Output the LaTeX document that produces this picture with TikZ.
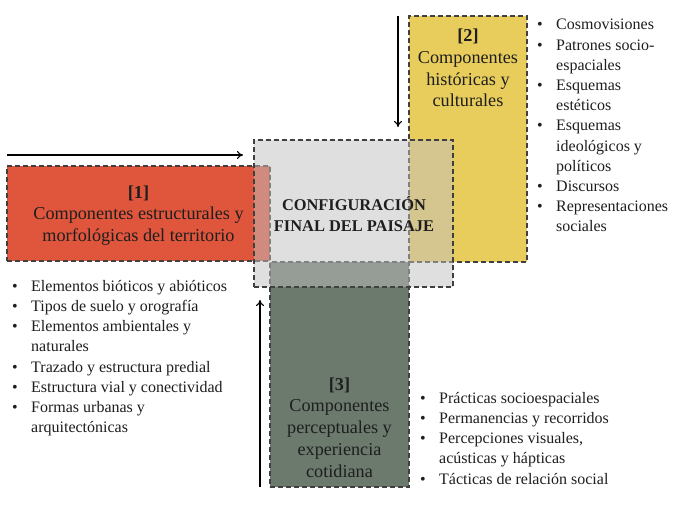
\documentclass[tikz,border=0pt]{standalone}
\usepackage{fontspec}
\setmainfont{Liberation Serif}
\usetikzlibrary{arrows.meta}
\definecolor{cred}{RGB}{224,86,60}
\definecolor{cyel}{RGB}{232,205,92}
\definecolor{cgrn}{RGB}{108,122,110}
\definecolor{cmid}{RGB}{193,193,193}
\definecolor{cbrd}{RGB}{64,64,64}
\definecolor{ctxt}{RGB}{30,30,30}
\tikzset{
  compbox/.style={draw=cbrd, dash pattern=on 5pt off 3pt, line width=1.7pt, inner sep=0pt, rectangle},
  titletext/.style={font=\fontsize{18.2}{21.8}\selectfont, align=center, text=ctxt, inner sep=0pt},
  listtext/.style={font=\fontsize{16}{20.2}\selectfont, align=left, text=ctxt, inner sep=0pt, anchor=north west},
  flowarrow/.style={-{To[length=6pt,width=8pt]}, line width=1.1pt, black}
}
\newcommand{\bul}{\makebox[19pt][l]{•}}
\newcommand{\cont}{\hspace*{19pt}}
\begin{document}
\begin{tikzpicture}[x=1pt,y=-1pt]
\fill[white] (0,0) rectangle (679,515);
\useasboundingbox (0,0) rectangle (679,515);
% component boxes
\node[compbox, fill=cred, minimum width=263pt, minimum height=95pt] (red) at (138.5,213.5) {};
\node[compbox, fill=cyel, minimum width=118pt, minimum height=246pt] (yel) at (468,139) {};
\node[compbox, fill=cgrn, minimum width=139pt, minimum height=225pt] (grn) at (339.5,374.5) {};
% central box
\node[compbox, fill=cmid, fill opacity=0.5, minimum width=199pt, minimum height=147pt] (mid) at (353.5,213.5) {};
% titles
\node[titletext] (t1) at (138.5,215.5) {\textbf{[1]}\\Componentes estructurales y\\morfológicas del territorio};
\node[titletext] (t2) at (468,68) {\textbf{[2]}\\Componentes\\históricas y\\culturales};
\node[titletext] (t3) at (339.5,427.5) {\textbf{[3]}\\Componentes\\perceptuales y\\experiencia\\cotidiana};
\node[font=\fontsize{16.4}{21}\selectfont\bfseries, align=center, text=ctxt, inner sep=0pt] (tm) at (354,214.5) {CONFIGURACIÓN\\FINAL DEL PAISAJE};
% lists
\node[listtext] (l1) at (12,280) {\bul Elementos bióticos y abióticos\\\bul Tipos de suelo y orografía\\\bul Elementos ambientales y\\\cont naturales\\\bul Trazado y estructura predial\\\bul Estructura vial y conectividad\\\bul Formas urbanas y\\\cont arquitectónicas};
\node[listtext] (l2) at (537,19) {\bul Cosmovisiones\\\bul Patrones socio-\\\cont espaciales\\\bul Esquemas\\\cont estéticos\\\bul Esquemas\\\cont ideológicos y\\\cont políticos\\\bul Discursos\\\bul Representaciones\\\cont sociales};
\node[listtext] (l3) at (420,392) {\bul Prácticas socioespaciales\\\bul Permanencias y recorridos\\\bul Percepciones visuales,\\\cont acústicas y hápticas\\\bul Tácticas de relación social};
% arrows
\coordinate (a1s) at (7,155);
\coordinate (a1e) at (243,155);
\coordinate (a2s) at (398,16);
\coordinate (a2e) at (398,127);
\coordinate (a3s) at (260,487);
\coordinate (a3e) at (260,300);
\draw[flowarrow] (a1s) -- (a1e);
\draw[flowarrow] (a2s) -- (a2e);
\draw[flowarrow] (a3s) -- (a3e);
\end{tikzpicture}
\end{document}
